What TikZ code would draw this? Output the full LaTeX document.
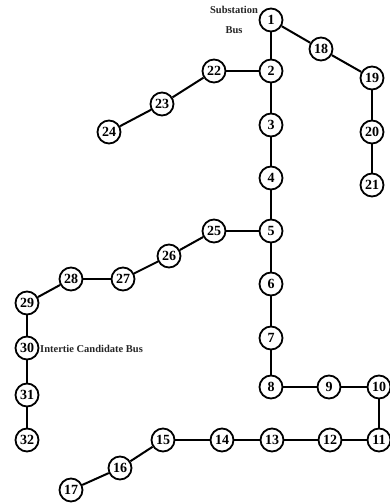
\documentclass[tikz,border=0pt]{standalone}
\usepackage{fontspec}
\setmainfont{Liberation Serif}
\begin{document}
\begin{tikzpicture}[x=1pt,y=-1pt,
  bus/.style={circle,draw,line width=1.8pt,fill=white,minimum size=23pt,inner sep=0pt,font=\fontsize{14}{14}\bfseries\selectfont},
  lbl/.style={font=\fontsize{10.5}{10.5}\bfseries\selectfont,inner sep=0pt,text=black!85},
  trunk/.style={line width=2.8pt},
  lat/.style={line width=2pt}]
\useasboundingbox (0,0) rectangle (390,503);
\clip (0,0) rectangle (390,503);
\node[bus] (n1) at (271,20) {1};
\node[bus] (n18) at (321,49) {18};
\node[bus] (n19) at (372,78) {19};
\node[bus] (n20) at (372,132) {20};
\node[bus] (n21) at (372,185) {21};
\node[bus] (n2) at (271,71) {2};
\node[bus] (n22) at (214,71) {22};
\node[bus] (n23) at (162,104) {23};
\node[bus] (n24) at (109,132) {24};
\node[bus] (n3) at (271,125) {3};
\node[bus] (n4) at (271,178) {4};
\node[bus] (n5) at (271,231) {5};
\node[bus] (n25) at (214,231) {25};
\node[bus] (n26) at (169,256) {26};
\node[bus] (n27) at (123,279) {27};
\node[bus] (n28) at (71,279) {28};
\node[bus] (n29) at (27,303) {29};
\node[bus] (n30) at (27,348) {30};
\node[bus] (n31) at (27,395) {31};
\node[bus] (n32) at (27,440) {32};
\node[bus] (n6) at (271,284) {6};
\node[bus] (n7) at (271,338) {7};
\node[bus] (n8) at (271,387) {8};
\node[bus] (n9) at (329,387) {9};
\node[bus] (n10) at (379,387) {10};
\node[bus] (n11) at (379,440) {11};
\node[bus] (n12) at (330,440) {12};
\node[bus] (n13) at (272,440) {13};
\node[bus] (n14) at (222,440) {14};
\node[bus] (n15) at (163,440) {15};
\node[bus] (n16) at (120,468) {16};
\node[bus] (n17) at (71,490) {17};
\draw[trunk] (n1) -- (n2) -- (n3) -- (n4) -- (n5) -- (n6) -- (n7) -- (n8) -- (n9) -- (n10) -- (n11) -- (n12) -- (n13) -- (n14) -- (n15);
\draw[lat] (n15) -- (n16) -- (n17);
\draw[lat] (n1) -- (n18) -- (n19);
\draw[trunk] (n19) -- (n20) -- (n21);
\draw[trunk] (n2) -- (n22);
\draw[lat] (n22) -- (n23) -- (n24);
\draw[trunk] (n5) -- (n25);
\draw[lat] (n25) -- (n26) -- (n27);
\draw[trunk] (n27) -- (n28);
\draw[lat] (n28) -- (n29);
\draw[trunk] (n29) -- (n30) -- (n31) -- (n32);
\node[lbl] (sub) at (234,10) {Substation};
\node[lbl] (bus) at (234,30) {Bus};
\node[lbl,anchor=west] (ic) at (40,349) {Intertie Candidate Bus};
\end{tikzpicture}
\end{document}
